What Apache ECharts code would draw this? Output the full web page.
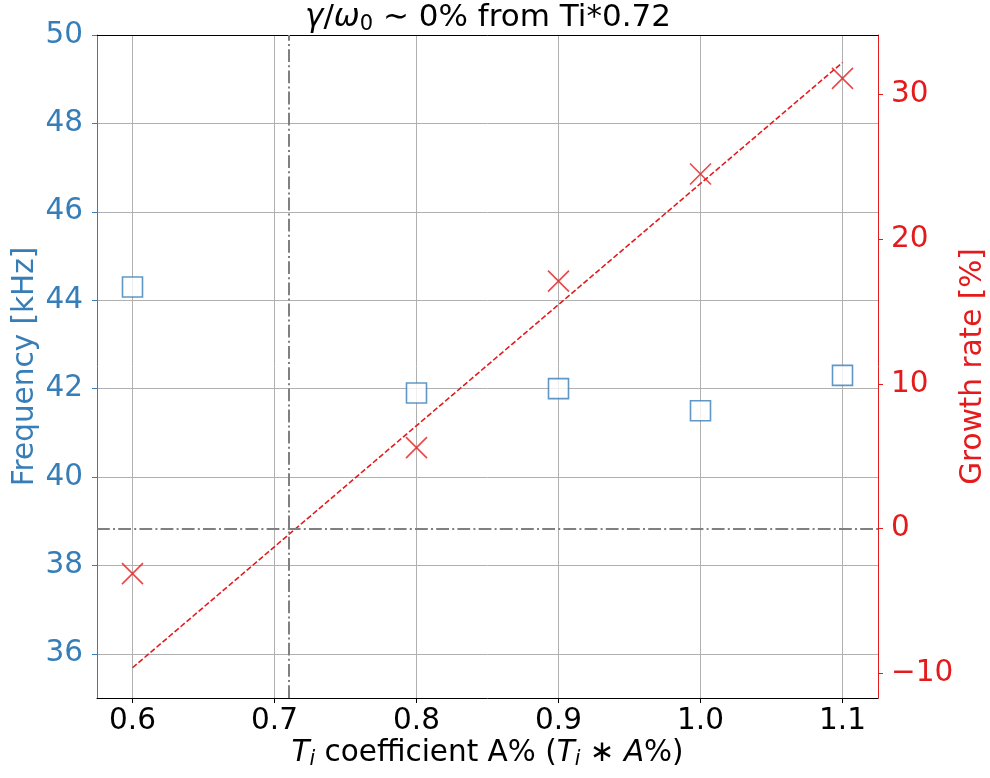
<!DOCTYPE html>
<html>
<head>
<meta charset="utf-8">
<script src="https://cdn.jsdelivr.net/npm/echarts@6/dist/echarts.min.js"></script>
<style>html,body{margin:0;padding:0;background:#fff}#c{width:990px;height:778px}</style>
</head>
<body>
<div id="c"></div>
<script>
// ---- data ----
const coeffTicks = [0.6, 0.7, 0.8, 0.9, 1.0, 1.1];
const coeff = [0.6, 0.8, 0.9, 1.0, 1.1];
const freq = [44.3, 41.9, 42.0, 41.5, 42.3];
const growth = [-3.1, 5.6, 17.1, 24.5, 31.1];
const fitCoeff = [0.6, 1.1];
const fitGrowth = [-9.6, 32.2];
const freqTicks = [36, 38, 40, 42, 44, 46, 48, 50];
const growthTicks = [-10, 0, 10, 20, 30];
const thresholdCoeff = 0.715;
const zeroGrowth = 0;

const BLUE = '#377eb8', RED = '#e41a1c', FONT = 'DejaVu Sans';
const FS = 29.5;

const chart = echarts.init(document.getElementById('c'), null, {renderer: 'canvas'});
const sub = {fontSize: 20.5, fontFamily: FONT, fontStyle: 'italic', padding: [13, 0, 0, 0]};
const it = {fontSize: FS, fontFamily: FONT, fontStyle: 'italic'};

chart.setOption({
  backgroundColor: '#fff',
  animation: false,
  textStyle: {fontFamily: FONT},
  title: {
    text: '{it|γ}/{it|ω}{sub|0} ∼ 0% from Ti*0.72',
    left: 483, top: -4, textAlign: 'center',
    textStyle: {fontSize: 31, fontWeight: 'normal', color: '#000', fontFamily: FONT,
      rich: {it: {fontSize: 31, fontFamily: FONT, fontStyle: 'italic'}, sub: {fontSize: 21, fontFamily: FONT, padding: [13,0,0,0]}}}
  },
  grid: {left: 97, right: 112, top: 35, bottom: 80, outerBoundsMode: 'none', containLabel: false},
  xAxis: [{
    type: 'value', min: 0.575, max: 1.125, position: 'bottom',
    name: '{it|T}{sub|i} coefficient A% ({it|T}{sub|i} ∗ {it|A}%)',
    nameLocation: 'middle', nameGap: 39, nameMoveOverlap: false,
    nameTextStyle: {fontSize: FS, color: '#000', fontFamily: FONT, rich: {it: it, sub: sub}},
    axisLine: {onZero: false, lineStyle: {color: '#000', width: 1}},
    axisTick: {show: true, length: 5, customValues: coeffTicks, lineStyle: {color: '#000'}},
    axisLabel: {customValues: coeffTicks, fontSize: FS, color: '#000', margin: 8, formatter: v => v.toFixed(1)},
    splitLine: {show: true, lineStyle: {color: '#b0b0b0', width: 1}}
  }, {
    type: 'value', min: 0.575, max: 1.125, position: 'top',
    axisLine: {onZero: false, lineStyle: {color: '#000', width: 1}},
    axisTick: {show: false}, axisLabel: {show: false}, splitLine: {show: false}
  }],
  yAxis: [{
    type: 'value', min: 35, max: 50, position: 'left',
    name: 'Frequency [kHz]', nameLocation: 'middle', nameGap: 57, nameRotate: 90, nameMoveOverlap: false,
    nameTextStyle: {fontSize: FS, color: BLUE, fontFamily: FONT},
    axisLine: {show: true, onZero: false, lineStyle: {color: BLUE, width: 1}},
    axisTick: {show: true, length: 5, customValues: freqTicks, lineStyle: {color: BLUE}},
    axisLabel: {customValues: freqTicks, fontSize: FS, color: BLUE, margin: 14},
    splitLine: {show: true, lineStyle: {color: '#b0b0b0', width: 1}}
  }, {
    type: 'value', min: -11.69, max: 34.1, position: 'right',
    name: 'Growth rate [%]', nameLocation: 'middle', nameGap: 80, nameRotate: 90, nameMoveOverlap: false,
    nameTextStyle: {fontSize: FS, color: RED, fontFamily: FONT},
    axisLine: {show: true, onZero: false, lineStyle: {color: RED, width: 1}},
    axisTick: {show: true, length: 5, customValues: growthTicks, lineStyle: {color: RED}},
    axisLabel: {customValues: growthTicks, fontSize: FS, color: RED, margin: 13,
      formatter: v => String(v).replace('-', '\u2212')},
    splitLine: {show: false}
  }],
  series: [{
    type: 'line', xAxisIndex: 0, yAxisIndex: 1,
    data: fitCoeff.map((x, i) => [x, fitGrowth[i]]),
    symbol: 'none', lineStyle: {color: RED, width: 1.6, type: [5.5, 2.4]}, z: 3,
    markLine: {
      silent: true, symbol: 'none', label: {show: false},
      lineStyle: {color: '#808080', width: 2, type: [12.8, 3.2, 2, 3.2]},
      data: [{xAxis: thresholdCoeff}, {yAxis: zeroGrowth}]
    }
  }, {
    type: 'scatter', xAxisIndex: 0, yAxisIndex: 0,
    data: coeff.map((x, i) => [x, freq[i]]),
    symbol: 'rect', symbolSize: 20,
    itemStyle: {color: '#fff', borderColor: BLUE, borderWidth: 1.6}, z: 4
  }, {
    type: 'scatter', xAxisIndex: 0, yAxisIndex: 1,
    data: coeff.map((x, i) => [x, growth[i]]),
    symbol: 'path://M0,0L10,10M10,0L0,10', symbolSize: 21,
    itemStyle: {color: 'none', borderColor: RED, borderWidth: 1.6}, z: 5
  }]
});
</script>
</body>
</html>
